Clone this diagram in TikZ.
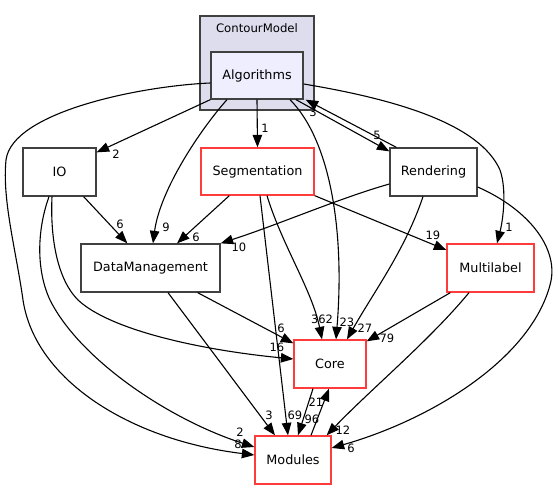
\documentclass[tikz,border=0pt]{standalone}
\usepackage{fontspec}
\setmainfont{DejaVu Sans}
\usetikzlibrary{arrows.meta}
\definecolor{clfill}{RGB}{221,221,238}
\definecolor{algfill}{RGB}{238,238,255}
\definecolor{bgrey}{RGB}{64,64,64}
\definecolor{bred}{RGB}{255,60,60}
\tikzset{
  box/.style={draw=bgrey, line width=1.3pt, fill=white, inner sep=0pt, minimum height=48pt, font=\fontsize{12.8}{15}\selectfont},
  redbox/.style={box, draw=bred},
  clusterbox/.style={draw=bgrey, line width=1.3pt, fill=clfill, inner sep=0pt},
  edge/.style={draw=black, line width=1.1pt, -{Triangle[length=12.5pt,width=9.5pt]}},
  lbl/.style={inner sep=0pt, font=\fontsize{11.5}{13}\selectfont},
}
\begin{document}
\begin{tikzpicture}[x=1pt,y=-1pt]
\useasboundingbox (0,0) rectangle (558,489);
% cluster
\node[clusterbox, minimum width=114pt, minimum height=94pt] (cm) at (257,63) {};
\node[inner sep=0pt, font=\fontsize{11.7}{13}\selectfont] (cml) at (257,28) {ContourModel};
% nodes
\node[box, fill=algfill, minimum width=92pt, minimum height=47pt] (alg) at (257,75.5) {Algorithms};
\node[box, minimum width=73pt] (io) at (59.5,172) {IO};
\node[redbox, minimum width=113pt, minimum height=47pt] (seg) at (257.5,171.5) {Segmentation};
\node[box, minimum width=87pt] (ren) at (433.5,172) {Rendering};
\node[box, minimum width=139pt] (dm) at (150.5,268) {DataManagement};
\node[redbox, minimum width=87pt] (ml) at (490.5,268) {Multilabel};
\node[redbox, minimum width=72pt] (core) at (330,364) {Core};
\node[redbox, minimum width=76pt] (mod) at (293,460) {Modules};
% edges
\draw[edge] (alg.south west) -- ([yshift=-5pt]io.north east);
\draw[edge] ([yshift=-7.5pt]alg.west) .. controls (140,86) and (12,112) .. (6,160)
   .. controls (2,200) and (16,250) .. (23,300)
   .. controls (35,380) and (130,440) .. ([yshift=5pt]mod.west);
\draw[edge] ([xshift=-10.5pt]io.south) .. controls (37,230) and (36,270) .. (50,300)
   .. controls (80,360) and (170,420) .. ([yshift=13pt]mod.west);
\draw[edge] ([xshift=-7.5pt]io.south) .. controls (50,240) and (58,280) .. (78,300)
   .. controls (110,330) and (200,350) .. ([yshift=5pt]core.west);
\draw[edge] ([xshift=-13pt]io.south east) -- ([xshift=47pt]dm.north west);
\draw[edge] ([xshift=-30pt]alg.south) .. controls (200,130) and (160,190) .. ([xshift=2.5pt]dm.north);
\draw[edge] (alg.south) -- (seg.north);
\draw[edge] ([xshift=29pt]seg.south west) -- ([xshift=26.5pt]dm.north);
\draw[edge] ([yshift=-12pt]ren.west) .. controls (340,198) and (280,224) .. (dm.north east);
\draw[edge] (seg.south east) -- ([yshift=18pt]ml.west);
\draw[edge] ([xshift=9.5pt]seg.south) .. controls (282,245) and (312,290) .. ([xshift=-8pt]core.north);
\draw[edge] ([xshift=33pt]alg.south) .. controls (330,140) and (345,230) .. ([xshift=6pt]core.north);
\draw[edge] ([xshift=39pt]alg.south) -- ([yshift=-4pt]ren.north west);
\draw[edge] ([xshift=7pt]ren.north west) -- ([xshift=2pt]alg.south east);
\draw[edge] ([yshift=-8.5pt]alg.east) .. controls (400,100) and (480,125) .. (500,170)
   .. controls (507,190) and (503,220) .. ([xshift=6.5pt]ml.north);
\draw[edge] ([xshift=-10.5pt]ren.south) .. controls (405,250) and (375,290) .. ([xshift=17pt]core.north);
\draw[edge] ([yshift=-15pt]ren.east) .. controls (530,210) and (560,250) .. (550,285)
   .. controls (530,360) and (430,420) .. ([yshift=12pt]mod.east);
\draw[edge] ([xshift=4pt]ml.south west) -- ([yshift=-2pt]core.north east);
\draw[edge] ([xshift=-21.5pt]ml.south) .. controls (430,340) and (370,390) .. ([xshift=-5pt]mod.north east);
\draw[edge] ([xshift=-23pt]dm.south east) -- ([yshift=-4pt]core.north west);
\draw[edge] ([xshift=17.5pt]dm.south) -- ([xshift=-18pt]mod.north);
\draw[edge] ([xshift=-17pt]core.south) -- ([xshift=5pt]mod.north);
\draw[edge] ([xshift=18pt]mod.north) -- ([xshift=-1pt]core.south);
\draw[edge] ([xshift=2.5pt]seg.south) -- ([xshift=-5pt]mod.north);
% labels
\node[lbl] (l1) at (116,154) {2};
\node[lbl] (l2) at (238,444) {8};
\node[lbl] (l3) at (240,432) {2};
\node[lbl] (l4) at (277,347) {16};
\node[lbl] (l5) at (120,224) {6};
\node[lbl] (l6) at (166,227) {9};
\node[lbl] (l7) at (265,128) {1};
\node[lbl] (l8) at (196,237) {6};
\node[lbl] (l9) at (239,247) {10};
\node[lbl] (l10) at (433,235) {19};
\node[lbl] (l11) at (322,319) {362};
\node[lbl] (l12) at (347,322) {23};
\node[lbl] (l13) at (377,135) {5};
\node[lbl] (l14) at (313,112) {3};
\node[lbl] (l15) at (509,227) {1};
\node[lbl] (l16) at (365,328) {27};
\node[lbl] (l17) at (351,448) {6};
\node[lbl] (l18) at (387,338) {79};
\node[lbl] (l19) at (343,430) {12};
\node[lbl] (l20) at (281,328) {6};
\node[lbl] (l21) at (269,415) {3};
\node[lbl] (l22) at (312,419) {96};
\node[lbl] (l23) at (316,402) {21};
\node[lbl] (l24) at (295,415) {69};
\end{tikzpicture}
\end{document}
